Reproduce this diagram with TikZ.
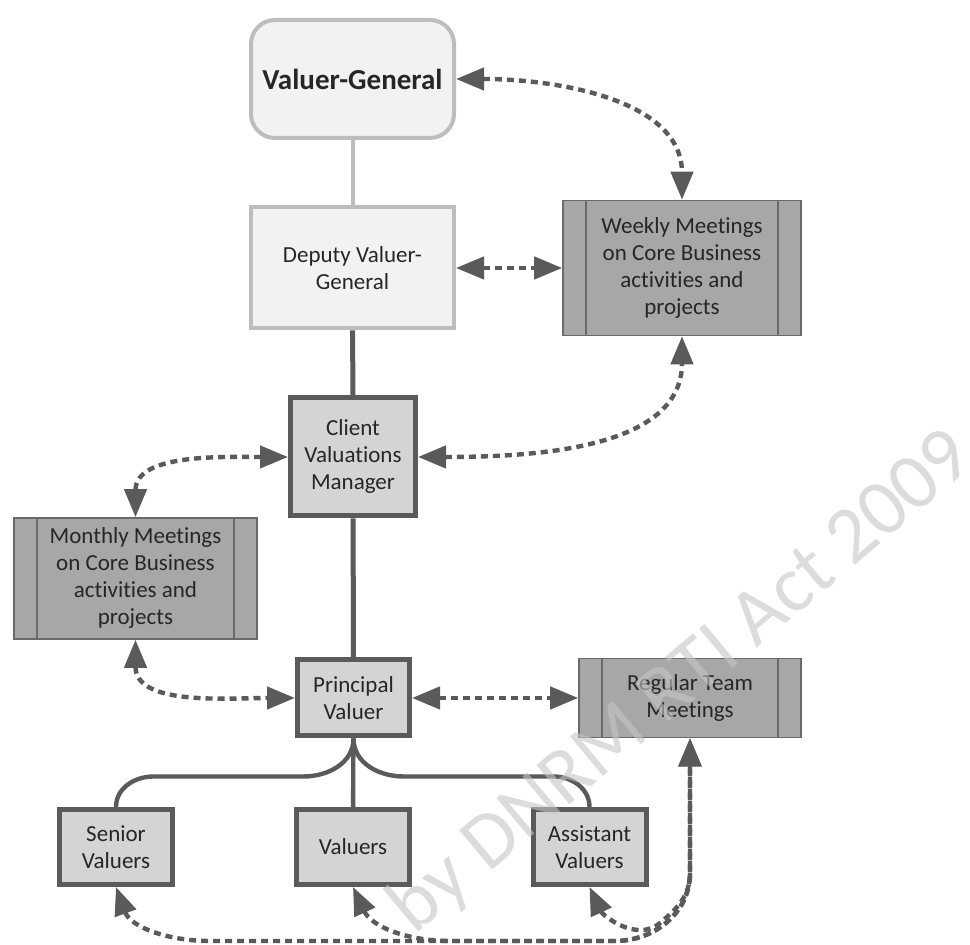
\documentclass[tikz,border=0pt]{standalone}
\usepackage{fontspec}
\setmainfont{Carlito}[Ligatures=NoCommon]
\usetikzlibrary{arrows.meta}

\definecolor{vgfill}{HTML}{F2F2F2}
\definecolor{vgline}{HTML}{BDBDBD}
\definecolor{boxfill}{HTML}{D4D4D4}
\definecolor{boxline}{HTML}{5A5A5A}
\definecolor{meetfill}{HTML}{A7A7A7}
\definecolor{meetline}{HTML}{6A6A6A}

\begin{document}
\begin{tikzpicture}[x=0.5pt, y=0.5pt, font=\fontsize{11.5}{13.5}\selectfont,
    text=black!85, >={Triangle[length=14pt, width=11pt]},
    head/.style={draw=vgline, fill=vgfill, line width=2pt, inner sep=0pt,
      align=center, minimum width=101.5pt},
    role/.style={draw=boxline, fill=boxfill, line width=2.5pt, inner sep=0pt,
      align=center},
    meet/.style={draw=meetline, fill=meetfill, line width=0.8pt, inner sep=0pt,
      align=center},
    sidebar/.style={meetline, line width=0.8pt},
    link/.style={boxline, line width=2.2pt, dash pattern=on 3.5pt off 2.5pt, <->},
    tree/.style={boxline, line width=2.2pt},
  ]

  % page: 970 x 945 px, 1 px = 0.5pt, origin bottom left
  \fill[white] (0,0) rectangle (970,945);
  \useasboundingbox (0,0) rectangle (970,945);

  % boxes
  \node[head, rounded corners=12pt, minimum height=59pt,
        font=\fontsize{14.5}{17}\selectfont\bfseries] (vg) at (352.5,866) {Valuer-General};
  \node[head, minimum height=60.5pt] (dv) at (352.5,677) {Deputy Valuer-\\General};
  \node[meet, minimum width=119pt, minimum height=67.5pt] (wk) at (682,677)
      {Weekly Meetings\\on Core Business\\activities and\\projects};
  \node[role, minimum width=62.5pt, minimum height=59pt] (cv) at (353,488)
      {Client\\Valuations\\Manager};
  \node[meet, minimum width=121.5pt, minimum height=60.5pt] (mo) at (135.5,366.5)
      {Monthly Meetings\\on Core Business\\activities and\\projects};
  \node[role, minimum width=56pt, minimum height=38pt] (pv) at (353.5,247)
      {Principal\\Valuer};
  \node[meet, minimum width=111pt, minimum height=39.5pt] (rt) at (690,247)
      {Regular Team\\Meetings};
  \node[role, minimum width=56.5pt, minimum height=37.5pt] (sv) at (116,98)
      {Senior\\Valuers};
  \node[role, minimum width=56.5pt, minimum height=37.5pt] (vl) at (353,98)
      {Valuers};
  \node[role, minimum width=56.5pt, minimum height=37.5pt] (as) at (589.5,98)
      {Assistant\\Valuers};

  % side bars of the meeting boxes
  \foreach \m in {wk, mo, rt} {
    \draw[sidebar] ([xshift=12pt]\m.north west) -- ([xshift=12pt]\m.south west)
                   ([xshift=-12pt]\m.north east) -- ([xshift=-12pt]\m.south east);
  }

  % reporting lines
  \draw[vgline, line width=2pt] (vg) -- (dv);
  \draw[tree, line width=2.5pt] (dv) -- (cv);
  \draw[tree, line width=2.5pt] (cv) -- (pv);
  \draw[tree] (pv) -- (vl);
  \draw[tree] (pv.south) to[out=-90, in=0] ++(-50,-38) -- ++(-150,0)
      to[out=180, in=90] (sv.north);
  \draw[tree] (pv.south) to[out=-90, in=180] ++(50,-38) -- ++(150,0)
      to[out=0, in=90] (as.north);

  % meeting links
  \draw[link] (vg.east) to[out=0, in=90] (wk.north);
  \draw[link] (dv) -- (wk);
  \draw[link] (cv.east) to[out=0, in=-90] (wk.south);
  \draw[link] (cv.west) to[out=180, in=90] (mo.north);
  \draw[link] (mo.south) to[out=-90, in=180] (pv.west);
  \draw[link] (pv) -- (rt);

  % bottom run to the team meetings
  \coordinate (sl) at (210,4);
  \coordinate (vm) at (450,4);
  \coordinate (br) at (615,4);
  \coordinate (bc) at (690,72);
  \coordinate (jn) at (660,22);
  \draw[link] (sv.south) to[out=-70, in=180] (sl) -- (br)
      to[out=0, in=-90] (bc) -- (rt.south);
  \draw[link] (vl.south) to[out=-65, in=180] (vm) -- (br)
      to[out=0, in=-90] (bc) -- (rt.south);
  \draw[link] (as.south) to[out=-65, in=220] (jn)
      to[out=40, in=-90] (bc) -- (rt.south);

  % watermark
  \node[rotate=40, text=gray!45, opacity=0.6, font=\fontsize{40}{40}\selectfont]
      (wm) at (682,262) {by DNRM RTI Act 2009};

\end{tikzpicture}
\end{document}
